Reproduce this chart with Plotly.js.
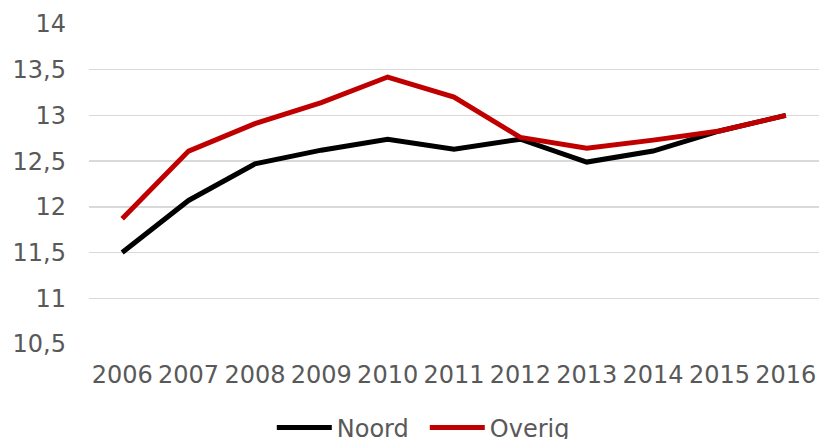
<!DOCTYPE html>
<html>
<head>
<meta charset="utf-8">
<script src="https://cdn.plot.ly/plotly-3.0.1.min.js"></script>
<style>html,body{margin:0;padding:0;background:#fff;}#chart{width:821px;height:439px;}</style>
</head>
<body>
<div id="chart"></div>
<script>
const years = ['2006','2007','2008','2009','2010','2011','2012','2013','2014','2015','2016'];
const noord = [11.5, 12.07, 12.47, 12.62, 12.74, 12.63, 12.74, 12.49, 12.61, 12.83, 13.0];
const overig = [11.87, 12.61, 12.91, 13.14, 13.42, 13.2, 12.76, 12.64, 12.73, 12.83, 13.0];
const seriesNames = ['Noord', 'Overig'];

const traces = [
  {x: years, y: noord, name: seriesNames[0], type: 'scatter', mode: 'lines',
   line: {color: '#000000', width: 5}},
  {x: years, y: overig, name: seriesNames[1], type: 'scatter', mode: 'lines',
   line: {color: '#C00000', width: 5}}
];

const layout = {
  width: 821, height: 439,
  margin: {l: 89, r: 2, t: 24, b: 95, autoexpand: false},
  paper_bgcolor: '#ffffff', plot_bgcolor: '#ffffff',
  separators: ',.',
  font: {family: 'DejaVu Sans, Verdana, sans-serif', size: 24, color: '#595959'},
  xaxis: {type: 'category', range: [-0.5, 10.5], showgrid: false, zeroline: false, showline: false,
          automargin: false, ticks: '', ticklabelstandoff: 14, tickfont: {size: 24, color: '#595959'}},
  yaxis: {range: [10.5, 14], dtick: 0.5, tick0: 10.5, showgrid: true, gridcolor: '#d9d9d9',
          automargin: false, gridwidth: 1.5, zeroline: false, showline: false, ticks: '', ticklabelstandoff: 22,
          tickfont: {size: 24, color: '#595959'}},
  showlegend: true,
  legend: {orientation: 'h', x: 0.46, xanchor: 'center', y: -0.2625, yanchor: 'middle',
           itemwidth: 55, entrywidth: 83,
           font: {size: 24, color: '#595959'}, traceorder: 'normal'}
};

Plotly.newPlot('chart', traces, layout, {displayModeBar: false, staticPlot: true});
</script>
</body>
</html>
